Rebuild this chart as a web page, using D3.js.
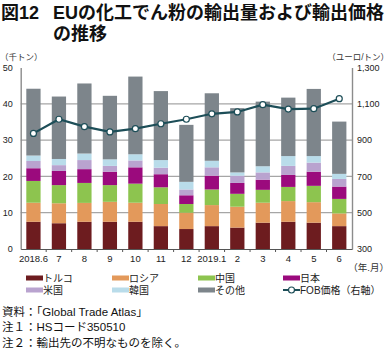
<!DOCTYPE html>
<html>
<head>
<meta charset="utf-8">
<script src="https://cdn.jsdelivr.net/npm/d3@7"></script>
<style>
  body { margin: 0; background: #fff; }
  svg text { font-family: "Liberation Sans", Arial, "Noto Sans CJK JP", sans-serif; }
</style>
</head>
<body>
<div id="chart"></div>
<script>
// months (x categories)
const months = ["2018.6", "7", "8", "9", "10", "11", "12", "2019.1", "2", "3", "4", "5", "6"];

// export volume by destination (thousand tonnes)
const turkey = [7.5, 7.1, 7.5, 7.5, 7.5, 6.3, 5.5, 6.3, 5.9, 7.25, 7.5, 7.25, 6.3];
const russia = [5.25, 5.5, 5.2, 5.5, 5.25, 6.1, 4.5, 5.8, 5.75, 5.5, 5.7, 5.65, 3.5];
const china  = [6.0, 5.0, 5.5, 4.6, 5.25, 4.6, 2.4, 4.3, 3.55, 3.55, 3.9, 4.5, 4.0];
const japan  = [3.5, 3.9, 3.8, 3.7, 4.5, 3.6, 2.4, 3.8, 3.0, 2.8, 3.3, 3.9, 3.4];
const usa    = [2.0, 1.6, 2.5, 1.6, 1.9, 1.8, 1.6, 2.3, 2.0, 2.0, 2.5, 2.5, 2.1];
const korea  = [1.5, 1.7, 1.8, 1.8, 1.7, 2.1, 2.1, 1.8, 0.9, 1.7, 2.7, 1.8, 1.4];
const others = [18.4, 17.2, 19.3, 17.5, 21.4, 19.0, 15.7, 18.6, 17.7, 17.8, 16.1, 18.5, 14.4];

// FOB price (euro / tonne)
const fobPrice = [937, 1015, 974, 945, 963, 990, 1015, 1045, 1055, 1095, 1071, 1073, 1128];

const seriesNames = ["トルコ", "ロシア", "中国", "日本", "米国", "韓国", "その他"];
const seriesValues = [turkey, russia, china, japan, usa, korea, others];
const seriesColors = ["#6d1c1f", "#e3995b", "#8dc44f", "#9b0a7d", "#b9a3cf", "#b9dcea", "#7d858b"];

const leftTicks = [0, 10, 20, 30, 40, 50];
const rightTicks = [300, 500, 700, 900, 1100, 1300];

const W = 391, H = 353;
const plot = {left: 20.7, right: 352, top: 67.5, bottom: 249};

const svg = d3.select("#chart")
  .append("svg")
    .attr("width", W)
    .attr("height", H);

// title
const title = svg.append("g").style("font-weight", "bold").style("font-size", "18px").attr("fill", "#111");
title.append("text").attr("x", 1).attr("y", 18.5).text("図12");
title.append("text").attr("x", 53).attr("y", 18.5).text("EUの化工でん粉の輸出量および輸出価格");
title.append("text").attr("x", 53).attr("y", 40).text("の推移");

// units
svg.append("text").attr("x", 0).attr("y", 60).style("font-size", "8.5px").attr("fill", "#333").text("（千トン）");
svg.append("text").attr("x", 389).attr("y", 60).attr("text-anchor", "end").style("font-size", "8.5px").attr("fill", "#333").text("（ユーロ/トン）");

// scales
const x = d3.scaleBand()
  .domain(months)
  .range([plot.left, plot.right])
  .paddingInner(0.44)
  .paddingOuter(0.22);

const y = d3.scaleLinear().domain([0, 50]).range([plot.bottom, plot.top]);
const y2 = d3.scaleLinear().domain([300, 1300]).range([plot.bottom, plot.top]);

// gridlines
svg.append("g")
  .selectAll("line")
  .data(leftTicks.filter(d => d > 0 && d < 50))
  .join("line")
    .attr("x1", plot.left)
    .attr("x2", plot.right)
    .attr("y1", d => y(d))
    .attr("y2", d => y(d))
    .attr("stroke", "#a6a6a6")
    .attr("stroke-width", 1.2);

// stacked bars
const table = months.map((m, i) => {
  const row = {month: m};
  seriesNames.forEach((s, j) => { row[s] = seriesValues[j][i]; });
  return row;
});
const stacked = d3.stack().keys(seriesNames)(table);

svg.append("g")
  .selectAll("g")
  .data(stacked)
  .join("g")
    .attr("fill", (d, i) => seriesColors[i])
  .selectAll("rect")
  .data(d => d)
  .join("rect")
    .attr("x", d => x(d.data.month))
    .attr("width", x.bandwidth())
    .attr("y", d => y(d[1]))
    .attr("height", d => y(d[0]) - y(d[1]));

// left axis
const leftAxis = svg.append("g")
  .attr("transform", `translate(${plot.left},0)`)
  .call(d3.axisLeft(y).tickValues(leftTicks).tickSize(0).tickPadding(8));
leftAxis.select(".domain").attr("stroke", "#8c8c8c").attr("stroke-width", 1.4);
leftAxis.selectAll("text").style("font-size", "9px").attr("fill", "#222");

// right axis
const rightAxis = svg.append("g")
  .attr("transform", `translate(${plot.right},0)`)
  .call(d3.axisRight(y2).tickValues(rightTicks).tickFormat(d3.format(",")).tickSize(0).tickPadding(5));
rightAxis.select(".domain").attr("stroke", "#8c8c8c").attr("stroke-width", 1.4);
rightAxis.selectAll("text").style("font-size", "9px").attr("fill", "#222");

// bottom axis
const step = x.step();
const bottomAxis = svg.append("g")
  .attr("transform", `translate(0,${plot.bottom})`)
  .call(d3.axisBottom(x).tickSize(0).tickPadding(6));
bottomAxis.select(".domain").attr("stroke", "#555").attr("stroke-width", 1.2);
bottomAxis.selectAll("text").style("font-size", "9.5px").attr("fill", "#222");
bottomAxis.selectAll(".sep")
  .data(months.slice(1))
  .join("line")
    .attr("class", "sep")
    .attr("x1", d => x(d) - (step - x.bandwidth()) / 2)
    .attr("x2", d => x(d) - (step - x.bandwidth()) / 2)
    .attr("y1", 0)
    .attr("y2", 3)
    .attr("stroke", "#555");

svg.append("text").attr("x", 389).attr("y", 271).attr("text-anchor", "end")
  .style("font-size", "9.5px").attr("fill", "#333").text("（年.月）");

// FOB price line
const line = d3.line()
  .x((d, i) => x(months[i]) + x.bandwidth() / 2)
  .y(d => y2(d));

svg.append("path")
  .datum(fobPrice)
  .attr("d", line)
  .attr("fill", "none")
  .attr("stroke", "#1d4e58")
  .attr("stroke-width", 2.2);

svg.append("g")
  .selectAll("circle")
  .data(fobPrice)
  .join("circle")
    .attr("cx", (d, i) => x(months[i]) + x.bandwidth() / 2)
    .attr("cy", d => y2(d))
    .attr("r", 3)
    .attr("fill", "#fff")
    .attr("stroke", "#1d4e58")
    .attr("stroke-width", 1.2);

// legend
const legendX = [26, 112, 198, 283];
const legendY = [278, 290];
const legend = svg.append("g").style("font-size", "10px");
seriesNames.forEach((s, i) => {
  const lx = legendX[i % 4], ly = legendY[Math.floor(i / 4)];
  legend.append("rect").attr("x", lx).attr("y", ly - 2.5).attr("width", 17).attr("height", 5).attr("fill", seriesColors[i]);
  legend.append("text").attr("x", lx + 17).attr("y", ly).attr("dy", "0.35em").attr("fill", "#222").text(s);
});
const fx = legendX[3], fy = legendY[1];
legend.append("line").attr("x1", fx).attr("x2", fx + 17).attr("y1", fy).attr("y2", fy).attr("stroke", "#1d4e58").attr("stroke-width", 2);
legend.append("circle").attr("cx", fx + 8.5).attr("cy", fy).attr("r", 3).attr("fill", "#fff").attr("stroke", "#1d4e58").attr("stroke-width", 1.2);
legend.append("text").attr("x", fx + 17).attr("y", fy).attr("dy", "0.35em").attr("fill", "#222").text("FOB価格（右軸）");

// notes
const notes = ["資料：「Global Trade Atlas」", "注１：HSコード350510", "注２：輸出先の不明なものを除く。"];
svg.append("g")
  .selectAll("text")
  .data(notes)
  .join("text")
    .attr("x", 2)
    .attr("y", (d, i) => 316 + i * 15.3)
    .style("font-size", "11.5px")
    .attr("fill", "#111")
    .text(d => d);
</script>
</body>
</html>
